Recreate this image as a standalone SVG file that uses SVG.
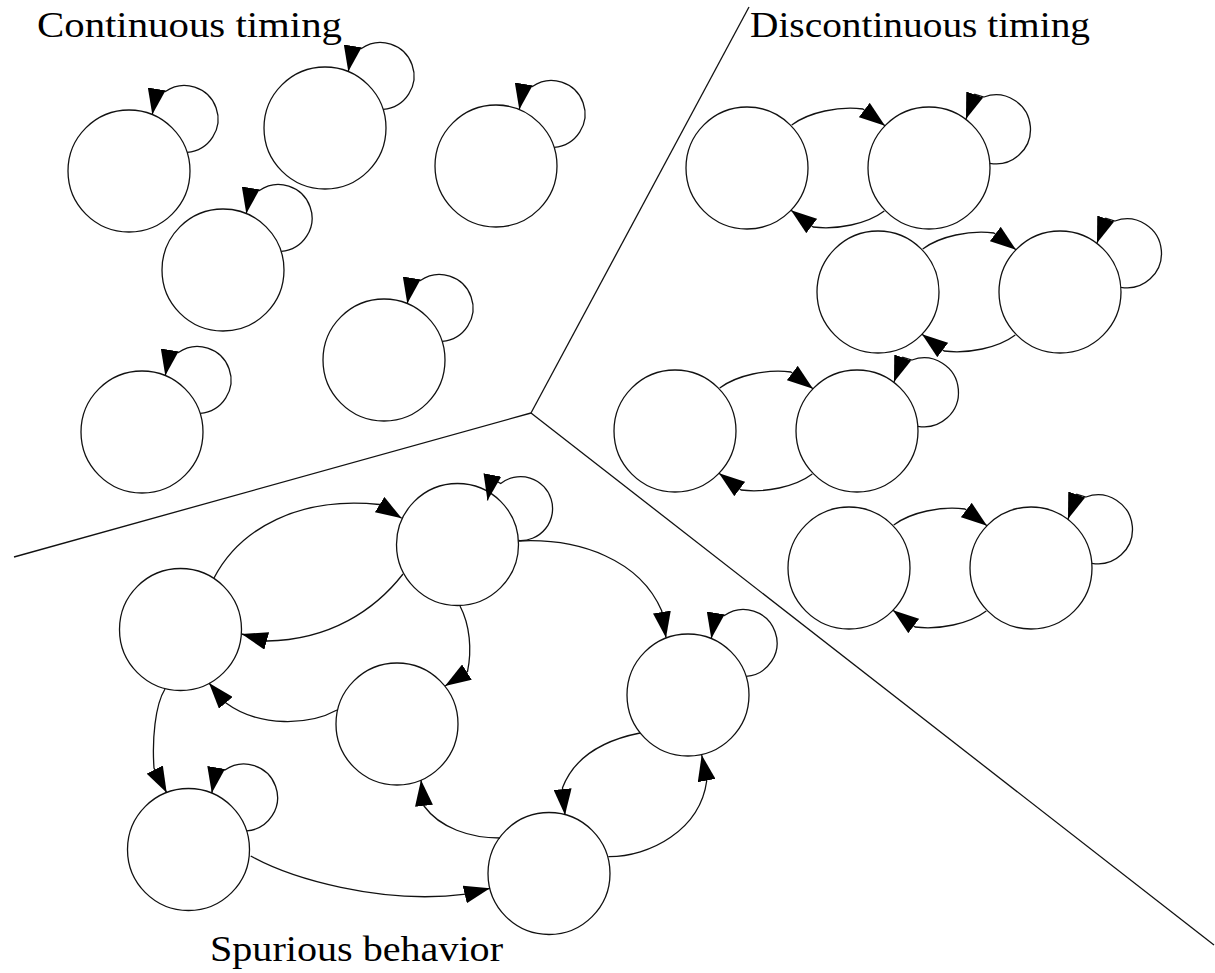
<svg xmlns="http://www.w3.org/2000/svg" xmlns:xlink="http://www.w3.org/1999/xlink" width="1215" height="973" viewBox="0 0 1215 973">
  <style>
    .bg { fill: #ffffff; }
    .divider { fill: none; stroke: #111; stroke-width: 1.3; }
    .state { fill: #ffffff; stroke: #111; stroke-width: 1.3; }
    .edge { fill: none; stroke: #111; stroke-width: 1.3; marker-end: url(#arrow); }
    .title { font-family: "Liberation Serif", "DejaVu Serif", serif; font-size: 36px; fill: #000; }
  </style>
  <defs>
    <marker id="arrow" markerUnits="userSpaceOnUse" viewBox="0 0 26 18" refX="26" refY="9" markerWidth="26" markerHeight="18" orient="auto">
      <path d="M0,0 L26,9 L0,18 Z" fill="#000"/>
    </marker>
    <!-- self-loops, relative to the state centre (radius 61) -->
    <path id="loopA" d="M58.2,-18.6 A33.5,33.5 0 1 0 36.4,-79.5 L27.5,-81 L23.3,-56.4"/>
    <path id="loopB" d="M60.8,-4.7 A34.5,34.5 0 1 0 55,-71 L45.8,-73.7 L37,-49"/>
    <path id="loopC" d="M60.8,-4 A32,32 0 1 0 43.2,-61 L34.2,-66 L30,-44"/>
    <!-- two-state cycle, relative to the left state centre; right state at +182 -->
    <path id="pairTop" d="M44.7,-43 C62,-56 92,-62 116,-59 L138,-42.3"/>
    <path id="pairBottom" d="M137.3,43 C120,56 90,62 66,59 L44,42.3"/>
  </defs>

  <rect class="bg" x="0" y="0" width="1215" height="973"/>

  <!-- region dividers -->
  <g id="dividers">
    <line class="divider" x1="531" y1="413" x2="749" y2="7"/>
    <line class="divider" x1="531" y1="413" x2="14" y2="557"/>
    <line class="divider" x1="531" y1="413" x2="1214" y2="945"/>
  </g>

  <!-- region titles -->
  <text class="title" x="37" y="37" textLength="305" lengthAdjust="spacingAndGlyphs">Continuous timing</text>
  <text class="title" x="750" y="37" textLength="340" lengthAdjust="spacingAndGlyphs">Discontinuous timing</text>
  <text class="title" x="210" y="961" textLength="293" lengthAdjust="spacingAndGlyphs">Spurious behavior</text>

  <!-- continuous timing states -->
  <g id="cont1"><circle class="state" cx="129" cy="171" r="61"/></g>
  <g id="cont2"><circle class="state" cx="325" cy="128" r="61"/></g>
  <g id="cont3"><circle class="state" cx="496" cy="166" r="61"/></g>
  <g id="cont4"><circle class="state" cx="223" cy="270" r="61"/></g>
  <g id="cont5"><circle class="state" cx="384" cy="360" r="61"/></g>
  <g id="cont6"><circle class="state" cx="142" cy="432" r="61"/></g>

  <!-- discontinuous timing states -->
  <g id="disc1"><circle class="state" cx="747" cy="168" r="61"/></g>
  <g id="disc2"><circle class="state" cx="929" cy="168" r="61"/></g>
  <g id="disc3"><circle class="state" cx="878" cy="292" r="61"/></g>
  <g id="disc4"><circle class="state" cx="1060" cy="292" r="61"/></g>
  <g id="disc5"><circle class="state" cx="675" cy="431" r="61"/></g>
  <g id="disc6"><circle class="state" cx="857" cy="431" r="61"/></g>
  <g id="disc7"><circle class="state" cx="849" cy="568" r="61"/></g>
  <g id="disc8"><circle class="state" cx="1031" cy="568" r="61"/></g>

  <!-- spurious behaviour states -->
  <g id="spur1"><circle class="state" cx="457.5" cy="544.5" r="61"/></g>
  <g id="spur2"><circle class="state" cx="180.5" cy="629.5" r="61"/></g>
  <g id="spur3"><circle class="state" cx="397" cy="724" r="61"/></g>
  <g id="spur4"><circle class="state" cx="188.5" cy="849.5" r="61"/></g>
  <g id="spur5"><circle class="state" cx="549" cy="873.5" r="61"/></g>
  <g id="spur6"><circle class="state" cx="688" cy="695" r="61"/></g>

  <g id="connectors" class="edge">
    <!-- continuous timing: self-loops only -->
    <use xlink:href="#loopA" href="#loopA" x="129" y="171"/>
    <use xlink:href="#loopA" href="#loopA" x="325" y="128"/>
    <use xlink:href="#loopA" href="#loopA" x="496" y="166"/>
    <use xlink:href="#loopA" href="#loopA" x="223" y="270"/>
    <use xlink:href="#loopA" href="#loopA" x="384" y="360"/>
    <use xlink:href="#loopA" href="#loopA" x="142" y="432"/>

    <!-- discontinuous timing: two-state cycles with a loop on the right state -->
    <use xlink:href="#pairTop" href="#pairTop" x="747" y="168"/>
    <use xlink:href="#pairBottom" href="#pairBottom" x="747" y="168"/>
    <use xlink:href="#loopB" href="#loopB" x="929" y="168"/>
    <use xlink:href="#pairTop" href="#pairTop" x="878" y="292"/>
    <use xlink:href="#pairBottom" href="#pairBottom" x="878" y="292"/>
    <use xlink:href="#loopB" href="#loopB" x="1060" y="292"/>
    <use xlink:href="#pairTop" href="#pairTop" x="675" y="431"/>
    <use xlink:href="#pairBottom" href="#pairBottom" x="675" y="431"/>
    <use xlink:href="#loopB" href="#loopB" x="857" y="431"/>
    <use xlink:href="#pairTop" href="#pairTop" x="849" y="568"/>
    <use xlink:href="#pairBottom" href="#pairBottom" x="849" y="568"/>
    <use xlink:href="#loopB" href="#loopB" x="1031" y="568"/>

    <!-- spurious behaviour -->
    <use xlink:href="#loopC" href="#loopC" x="457.5" y="544.5"/>
    <use xlink:href="#loopA" href="#loopA" x="188.5" y="849.5"/>
    <use xlink:href="#loopA" href="#loopA" x="688" y="695"/>
    <path d="M214,578 C240,528 300,496 379.5,504.5 L401.7,518.3"/>
    <path d="M403,574 C375,610 330,640 267,641 L241.7,634"/>
    <path d="M460,606 C470,625 472,650 467.5,671.7 L445,686"/>
    <path d="M337,710 C310,725 260,728 226,703 L209,683"/>
    <path d="M165,689 C155,705 152,740 154,768 L166.7,792.7"/>
    <path d="M250.7,856 C290,878 380,905 465.8,894.2 L490,888.3"/>
    <path d="M500,838 C470,838 440,828 424,806 L421,780"/>
    <path d="M640,733 C605,740 575,755 562.5,787.8 L565,815"/>
    <path d="M608.3,856.7 C650,857 700,830 706.7,781 L701.7,755"/>
    <path d="M519,541 C580,538 640,560 661.7,610.8 L666,637.7"/>
  </g>
</svg>
